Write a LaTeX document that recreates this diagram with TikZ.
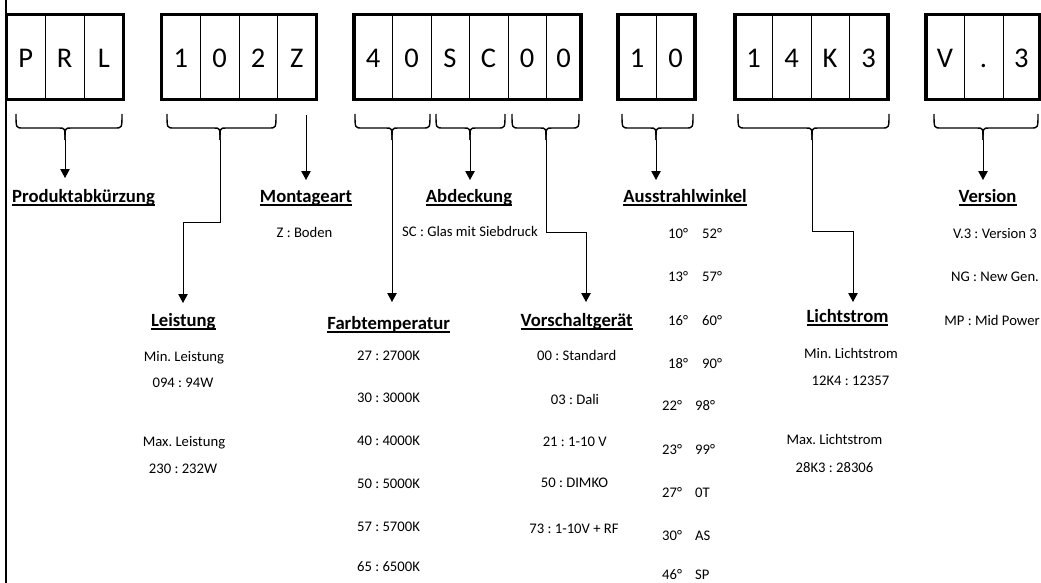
\documentclass[tikz,border=0pt]{standalone}
\usepackage{fontspec}
\setmainfont{Carlito}
\usetikzlibrary{arrows.meta}
\frenchspacing
\newcommand{\myul}[1]{\setbox0\hbox{#1}\rlap{\rule[-3.6pt]{\wd0}{1.7pt}}\box0}
\newcommand{\hbr}[3]{%
  \draw[brc] (#1,114) .. controls (#1,128) and (#1,128) .. (#1+7,128) -- (#3-6,128) .. controls (#3,128) and (#3,128) .. (#3,140);
  \draw[brc] (#2,114) .. controls (#2,128) and (#2,128) .. (#2-7,128) -- (#3+6,128) .. controls (#3,128) and (#3,128) .. (#3,140);}
\begin{document}
\begin{tikzpicture}[x=1pt,y=-1pt,
  frame/.style={line width=3.5pt},
  cellsep/.style={line width=1pt},
  brc/.style={line width=1.4pt},
  conn/.style={line width=1pt,-{Triangle[width=9.5pt,length=9pt]}},
  big/.style={anchor=base,inner sep=0pt,font=\fontsize{28.5}{30}\selectfont},
  lab/.style={anchor=base,inner sep=0pt,font=\bfseries\fontsize{18.67}{20}\selectfont},
  val/.style={anchor=base,inner sep=0pt,font=\fontsize{14.67}{16}\selectfont},
  valw/.style={anchor=base west,inner sep=0pt,font=\fontsize{14.67}{16}\selectfont}]
\useasboundingbox (0,0) rectangle (1041,583);
\fill[white] (0,0) rectangle (1041,583);
% left bar
\draw[line width=2.6pt] (6,0) -- (6,583);
% boxes
\draw[frame] (6.5,14.5) rectangle (123.5,99.5);
\foreach \x in {45,84} \draw[cellsep] (\x,14.5) -- (\x,99.5);
\foreach \x/\t/\n in {25.75/P/c1,64.5/R/c2,103.75/L/c3} \node[big] (\n) at (\x,68) {\t};
\draw[frame] (161.5,14.5) rectangle (316.5,99.5);
\foreach \x in {200,239,277} \draw[cellsep] (\x,14.5) -- (\x,99.5);
\foreach \x/\t/\n in {180.75/1/c4,219.5/0/c5,258/2/c6,296.75/Z/c7} \node[big] (\n) at (\x,68) {\t};
\draw[frame] (354,14.5) rectangle (581,99.5);
\foreach \x in {392,431,469,508,546} \draw[cellsep] (\x,14.5) -- (\x,99.5);
\foreach \x/\t/\n in {373/4/c8,411.5/0/c9,450/S/c10,488.5/C/c11,527/0/c12,563.5/0/c13} \node[big] (\n) at (\x,68) {\t};
\draw[frame] (618,14.5) rectangle (695,99.5);
\draw[cellsep] (656,14.5) -- (656,99.5);
\foreach \x/\t/\n in {637/1/c14,675.5/0/c15} \node[big] (\n) at (\x,68) {\t};
\draw[frame] (735,14.5) rectangle (888,99.5);
\foreach \x in {772,811,849} \draw[cellsep] (\x,14.5) -- (\x,99.5);
\foreach \x/\t/\n in {753.5/1/c16,791.5/4/c17,830/K/c18,868.5/3/c19} \node[big] (\n) at (\x,68) {\t};
\draw[frame] (926,14.5) rectangle (1039.5,99.5);
\foreach \x in {964,1003} \draw[cellsep] (\x,14.5) -- (\x,99.5);
\foreach \x/\t/\n in {945/V/c20,983.5/./c21,1021.25/3/c22} \node[big] (\n) at (\x,68) {\t};
% braces
\hbr{16}{122}{65}
\hbr{167}{276}{220}
\hbr{355}{430}{392}
\hbr{436}{505}{470}
\hbr{512}{579}{546}
\hbr{622}{693}{656}
\hbr{738}{889}{812}
\hbr{934}{1038}{983}
% brace tips and arrow ends
\coordinate (t1) at (65,140);   \coordinate (e1) at (65,178);
\coordinate (t2) at (220,140);  \coordinate (e2) at (183,303);
\coordinate (t3) at (306,115);  \coordinate (e3) at (306,180);
\coordinate (t4) at (392,140);  \coordinate (e4) at (392,302);
\coordinate (t5) at (470,140);  \coordinate (e5) at (470,180);
\coordinate (t6) at (546,140);  \coordinate (e6) at (586,302);
\coordinate (t7) at (656,140);  \coordinate (e7) at (656,180);
\coordinate (t8) at (812,140);  \coordinate (e8) at (853,302);
\coordinate (t9) at (983,140);  \coordinate (e9) at (983,180);
\draw[conn] (t1) -- (e1);
\draw[conn] (t2) -- (220,222) -| (e2);
\draw[conn] (t3) -- (e3);
\draw[conn] (t4) -- (e4);
\draw[conn] (t5) -- (e5);
\draw[conn] (t6) -- (546,232) -| (e6);
\draw[conn] (t7) -- (e7);
\draw[conn] (t8) -- (812,231) -| (e8);
\draw[conn] (t9) -- (e9);
% headings
\node[lab] (h1) at (83.5,202.5) {\myul{Produktabkürzung}};
\node[lab] (h2) at (306,202.5) {\myul{Montageart}};
\node[lab] (h3) at (469,202.5) {\myul{Abdeckung}};
\node[lab] (h4) at (685,202.5) {\myul{Ausstrahlwinkel}};
\node[lab] (h5) at (987.5,202.5) {\myul{Version}};
\node[lab] (h6) at (183.3,326.5) {\myul{Leistung}};
\node[lab] (h7) at (388.7,329.5) {\myul{Farbtemperatur}};
\node[lab] (h8) at (576.7,326.5) {\myul{Vorschaltgerät}};
\node[lab] (h9) at (847.5,322.5) {\myul{Lichtstrom}};
% values
\node[val] (v1) at (304.5,237) {Z : Boden};
\node[val] (v2) at (470,236.5) {SC : Glas mit Siebdruck};
\node[val] (v3) at (184,361.5) {Min. Leistung};
\node[val] (v4) at (183,387) {094 : 94W};
\node[val] (v5) at (184,446.5) {Max. Leistung};
\node[val] (v6) at (183,473) {230 : 232W};
\foreach \y/\t/\n in {360/{27 : 2700K}/f1,402.5/{30 : 3000K}/f2,445.5/{40 : 4000K}/f3,488/{50 : 5000K}/f4,531.5/{57 : 5700K}/f5,571.5/{65 : 6500K}/f6}
  \node[val] (\n) at (388.5,\y) {\t};
\node[val] (g1) at (576.7,360) {00 : Standard};
\node[val] (g2) at (575,404) {03 : Dali};
\node[val] (g3) at (574.7,446.7) {21 : 1-10 V};
\node[val] (g4) at (574.5,487.3) {50 : DIMKO};
\node[val] (g5) at (574,533.3) {73 : 1-10V + RF};
\foreach \y/\a/\b/\xa/\xb/\n in {238/10°/52°/668/702/w1,281.7/13°/57°/668/702/w2,325/16°/60°/668/702/w3,368.3/18°/90°/668/702/w4,410/22°/98°/662/695/w5,454/23°/99°/662/695/w6,497.3/27°/0T/662/695/w7,540/30°/AS/662/695/w8,579.5/46°/SP/662/695/w9}
  {\node[valw] (\n a) at (\xa,\y) {\a}; \node[valw] (\n b) at (\xb,\y) {\b};}
\node[val] (l1) at (851,358.3) {Min. Lichtstrom};
\node[val] (l2) at (850.5,385) {12K4 : 12357};
\node[val] (l3) at (834.5,444) {Max. Lichtstrom};
\node[val] (l4) at (834.5,472.7) {28K3 : 28306};
\node[val] (r1) at (995,238) {V.3 : Version 3};
\node[val] (r2) at (995,281.7) {NG : New Gen.};
\node[val] (r3) at (992,325) {MP : Mid Power};
\end{tikzpicture}
\end{document}
